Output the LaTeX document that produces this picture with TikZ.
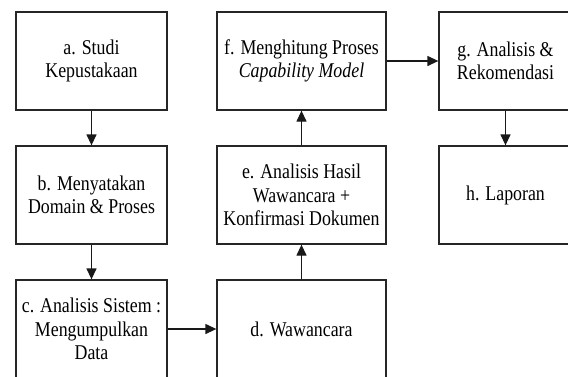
\documentclass[tikz,border=0pt]{standalone}
\usepackage{fontspec}
\setmainfont{Liberation Serif}[FakeStretch=0.85]
\usetikzlibrary{arrows.meta}
\begin{document}
\begin{tikzpicture}[x=1pt,y=-1pt,
  box/.style={draw=black!85, line width=1.3pt, fill=white, align=center,
    font=\fontsize{21}{23.5}\selectfont, inner sep=0pt, text=black},
  arr/.style={draw=black!90, line width=1.3pt, -{Triangle[length=11pt,width=10pt]}}]
\useasboundingbox (0,0) rectangle (568,376);
\clip (0,0) rectangle (568,376);
\fill[white] (0,0) rectangle (568,376);
\node[box, minimum width=151pt, minimum height=98pt] (a) at (91.5,61) {a. Studi\\Kepustakaan};
\node[box, minimum width=151pt, minimum height=98pt] (b) at (91.5,195) {b. Menyatakan\\Domain \& Proses};
\node[box, minimum width=151pt, minimum height=98pt] (c) at (91.5,329) {c. Analisis Sistem :\\Mengumpulkan\\Data};
\node[box, minimum width=169pt, minimum height=98pt] (d) at (301.5,329) {d. Wawancara};
\node[box, minimum width=169pt, minimum height=98pt] (e) at (301.5,195) {e. Analisis Hasil\\Wawancara +\\Konfirmasi Dokumen};
\node[box, minimum width=169pt, minimum height=98pt] (f) at (301.5,61) {f. Menghitung Proses\\\textit{Capability Model}};
\node[box, minimum width=133pt, minimum height=98pt] (g) at (505.5,61) {g. Analisis \&\\Rekomendasi};
\node[box, minimum width=133pt, minimum height=98pt] (h) at (505.5,195) {h. Laporan};
\draw[arr] (a) -- (b);
\draw[arr] (b) -- (c);
\draw[arr] (c) -- (d);
\draw[arr] (d) -- (e);
\draw[arr] (e) -- (f);
\draw[arr] (f) -- (g);
\draw[arr] (g) -- (h);
\end{tikzpicture}
\end{document}
